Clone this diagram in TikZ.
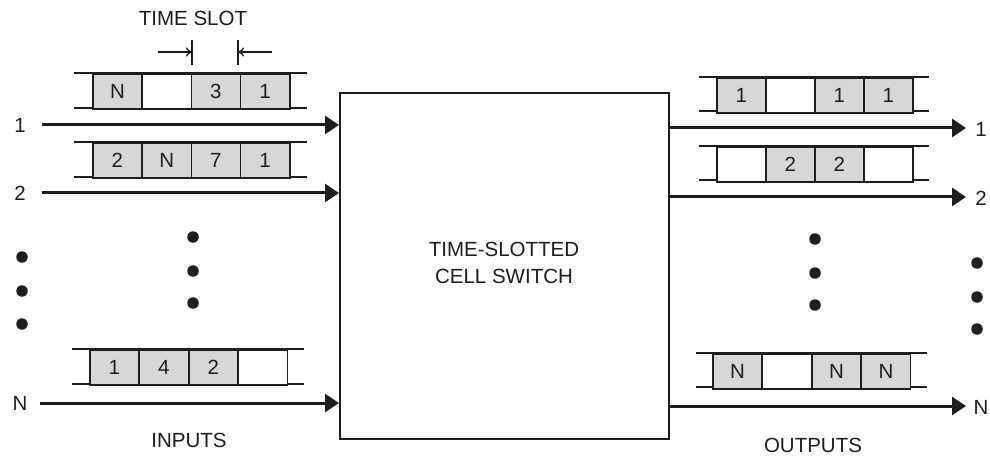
\documentclass[tikz,border=0pt]{standalone}
\usepackage{fontspec}
\setmainfont{Liberation Sans}
\usetikzlibrary{arrows.meta}
\definecolor{cellgray}{RGB}{215,215,215}
\definecolor{ink}{RGB}{30,30,30}
\newcommand{\lbl}{\fontsize{20.5}{24}\selectfont}
\tikzset{
  cellbox/.style={draw=ink, line width=1.6pt, minimum width=49.25pt, minimum height=35pt,
    inner sep=0pt, anchor=north west, font=\lbl, text=ink},
  full/.style={cellbox, fill=cellgray},
  blank/.style={cellbox, fill=white},
  rail/.style={draw=ink, line width=1.6pt},
  sig/.style={draw=ink, line width=3pt, -{Triangle[length=14pt,width=18pt]}},
  txt/.style={font=\lbl, text=ink, inner sep=0pt},
  dotmark/.style={circle, fill=ink, minimum size=11.5pt, inner sep=0pt},
  marker/.style={draw=ink, line width=1.3pt},
  markarrow/.style={draw=ink, line width=1.3pt, -{To[length=6pt,width=9pt]}},
  switchbox/.style={draw=ink, line width=1.8pt, fill=white}
}
\begin{document}
\begin{tikzpicture}[x=1pt,y=-1pt]
\useasboundingbox (0,0) rectangle (990,457);
% switch
\node[switchbox, minimum width=329pt, minimum height=346pt, anchor=north west, inner sep=0pt] (sw) at (339,92) {};
\node[txt, align=center] (swl) at (504,263) {TIME-SLOTTED\\[3pt]CELL SWITCH};

% ---------- inputs ----------
% row 1
\draw[rail] (74,73) -- (307,73) (74,108) -- (307,108);
\node[full]  (a1) at (92,73) {N};
\node[blank] (a2) at (141.25,73) {};
\node[full]  (a3) at (190.5,73) {3};
\node[full]  (a4) at (239.75,73) {1};
% row 2
\draw[rail] (74,142) -- (307,142) (74,177) -- (307,177);
\node[full] (b1) at (92,142) {2};
\node[full] (b2) at (141.25,142) {N};
\node[full] (b3) at (190.5,142) {7};
\node[full] (b4) at (239.75,142) {1};
% row N
\draw[rail] (72,349) -- (304,349) (72,384) -- (304,384);
\node[full]  (c1) at (89,349) {1};
\node[full]  (c2) at (138.5,349) {4};
\node[full]  (c3) at (188,349) {2};
\node[blank] (c4) at (237.5,349) {};

% input signals
\coordinate (i1) at (42,125);
\coordinate (i2) at (42,193);
\coordinate (iN) at (40,403);
\node[txt] (l1) at (20,125) {1};
\node[txt] (l2) at (20,193) {2};
\node[txt] (lN) at (20,403) {N};
\draw[sig] (i1) -- (i1 -| sw.west);
\draw[sig] (i2) -- (i2 -| sw.west);
\draw[sig] (iN) -- (iN -| sw.west);

% time slot
\node[txt] (ts) at (193,18) {TIME SLOT};
\coordinate (t1a) at (192,40); \coordinate (t1b) at (192,65);
\coordinate (t2a) at (238,40); \coordinate (t2b) at (238,65);
\draw[marker] (t1a) -- (t1b);
\draw[marker] (t2a) -- (t2b);
\coordinate (ta) at (158,52); \coordinate (tb) at (272,52);
\draw[markarrow] (ta) -- (ta -| t1a);
\draw[markarrow] (tb) -- (tb -| t2a);

% dots
\node[dotmark] (d1) at (22,257) {};
\node[dotmark] (d2) at (22,291) {};
\node[dotmark] (d3) at (22,324) {};
\node[dotmark] (e1) at (193,237) {};
\node[dotmark] (e2) at (193,271) {};
\node[dotmark] (e3) at (193,303) {};

\node[txt] (inl) at (189,440) {INPUTS};

% ---------- outputs ----------
% row 1
\draw[rail] (699,77) -- (929,77) (699,111) -- (929,111);
\node[full]  (p1) at (716,77) {1};
\node[blank] (p2) at (765,77) {};
\node[full]  (p3) at (814,77) {1};
\node[full]  (p4) at (863,77) {1};
% row 2
\draw[rail] (699,146) -- (929,146) (699,180) -- (929,180);
\node[blank] (q1) at (716,146) {};
\node[full]  (q2) at (765,146) {2};
\node[full]  (q3) at (814,146) {2};
\node[blank] (q4) at (863,146) {};
% row N
\draw[rail] (696,353) -- (927,353) (696,387) -- (927,387);
\node[full]  (r1) at (712,353) {N};
\node[blank] (r2) at (761.5,353) {};
\node[full]  (r3) at (811,353) {N};
\node[full]  (r4) at (860.5,353) {N};

% output signals
\coordinate (o1) at (966,128);
\coordinate (o2) at (966,197);
\coordinate (oN) at (966,406);
\draw[sig] (o1 -| sw.east) -- (o1);
\draw[sig] (o2 -| sw.east) -- (o2);
\draw[sig] (oN -| sw.east) -- (oN);
\node[txt] (m1) at (981,129) {1};
\node[txt] (m2) at (981,198) {2};
\node[txt] (mN) at (981,407) {N};

\node[dotmark] (f1) at (815,239) {};
\node[dotmark] (f2) at (815,273) {};
\node[dotmark] (f3) at (815,305) {};
\node[dotmark] (g1) at (977,263) {};
\node[dotmark] (g2) at (977,297) {};
\node[dotmark] (g3) at (977,329) {};

\node[txt] (outl) at (813,445) {OUTPUTS};
\end{tikzpicture}
\end{document}
